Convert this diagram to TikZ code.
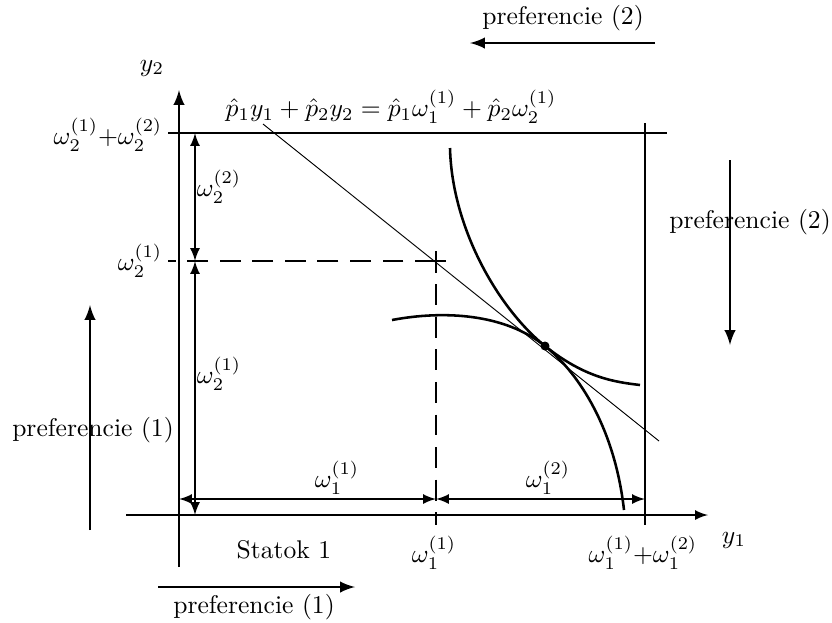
\documentclass[tikz,border=0pt]{standalone}
\begin{document}
\begin{tikzpicture}[x=0.43pt, y=-0.43pt, >=latex, every node/.style={scale=1.1}]
\tikzset{axis/.style={line width=1.2pt}, box/.style={line width=0.9pt},
  curve/.style={line width=1.1pt}, dim/.style={<->, line width=0.9pt},
  pref/.style={->, line width=1.2pt}, dash/.style={box, dash pattern=on 9pt off 5pt}}
\useasboundingbox (0,0) rectangle (832,622);
% points of the box
\coordinate (O) at (179,515);
\coordinate (ytop) at (179,90);
\coordinate (ybot) at (179,567);
\coordinate (xl) at (126,515);
\coordinate (xr) at (708,515);
\coordinate (tl) at (168,133);
\coordinate (tr) at (667,133);
\coordinate (rt) at (645,123);
\coordinate (rb) at (645,525);
\coordinate (W) at (436,261);
\coordinate (E) at (545,346);
% axes and box
\draw[->, axis] (ybot) -- (ytop);
\draw[->, box] (xl) -- (xr);
\draw[box] (tl) -- (tr);
\draw[box] (rt) -- (rb);
\draw[box, dash pattern=on 9pt off 5pt, dash phase=0pt] (W) -- (168,261);
\draw[box, dash pattern=on 9pt off 5pt, dash phase=4pt] (W) -- (436,525);
\draw[box] (426,261) -- (446,261) (436,251) -- (436,271);
% dimensions
\draw[dim] (195,133) -- (195,261);
\draw[dim] (195,261) -- (195,515);
\draw[dim] (179,499) -- (436,499);
\draw[dim] (436,499) -- (645,499);
% budget line
\draw[line width=0.4pt] (263,124) -- (659,441);
% indifference curves
\draw[curve] (450,148) .. controls (452,230) and (500,310) .. (E)
  .. controls (585,378) and (615,382) .. (640,385);
\draw[curve] (392,320) .. controls (445,310) and (505,314) .. (E)
  .. controls (580,374) and (615,430) .. (624,510);
\fill (E) circle (4.5);
% labels
\node (y2) at (152,68) {$y_2$};
\node (y1) at (734,540) {$y_1$};
\node (eq) at (391,107) {$\hat p_1y_1+\hat p_2y_2=\hat p_1\omega_1^{(1)}+\hat p_2\omega_2^{(1)}$};
\node (w2s) at (108,135) {$\omega_2^{(1)}{+}\omega_2^{(2)}$};
\node (w2a) at (140,261) {$\omega_2^{(1)}$};
\node (w2b) at (219,187) {$\omega_2^{(2)}$};
\node (w2c) at (219,374) {$\omega_2^{(1)}$};
\node (w1a) at (337,478) {$\omega_1^{(1)}$};
\node (w1b) at (548,478) {$\omega_1^{(2)}$};
\node (stat) at (284,550) {Statok 1};
\node (w1c) at (434,553) {$\omega_1^{(1)}$};
\node (w1s) at (643,553) {$\omega_1^{(1)}{+}\omega_1^{(2)}$};
% preferences
\node (p2t) at (563,18) {preferencie (2)};
\draw[pref] (655,43) -- (470,43);
\node (p2r) at (750,222) {preferencie (2)};
\draw[pref] (730,160) -- (730,345);
\draw[pref] (90,530) -- (90,305);
\node (p1l) at (93,430) {preferencie (1)};
\draw[pref] (158,587) -- (355,587);
\node (p1b) at (254,607) {preferencie (1)};
\end{tikzpicture}
\end{document}
